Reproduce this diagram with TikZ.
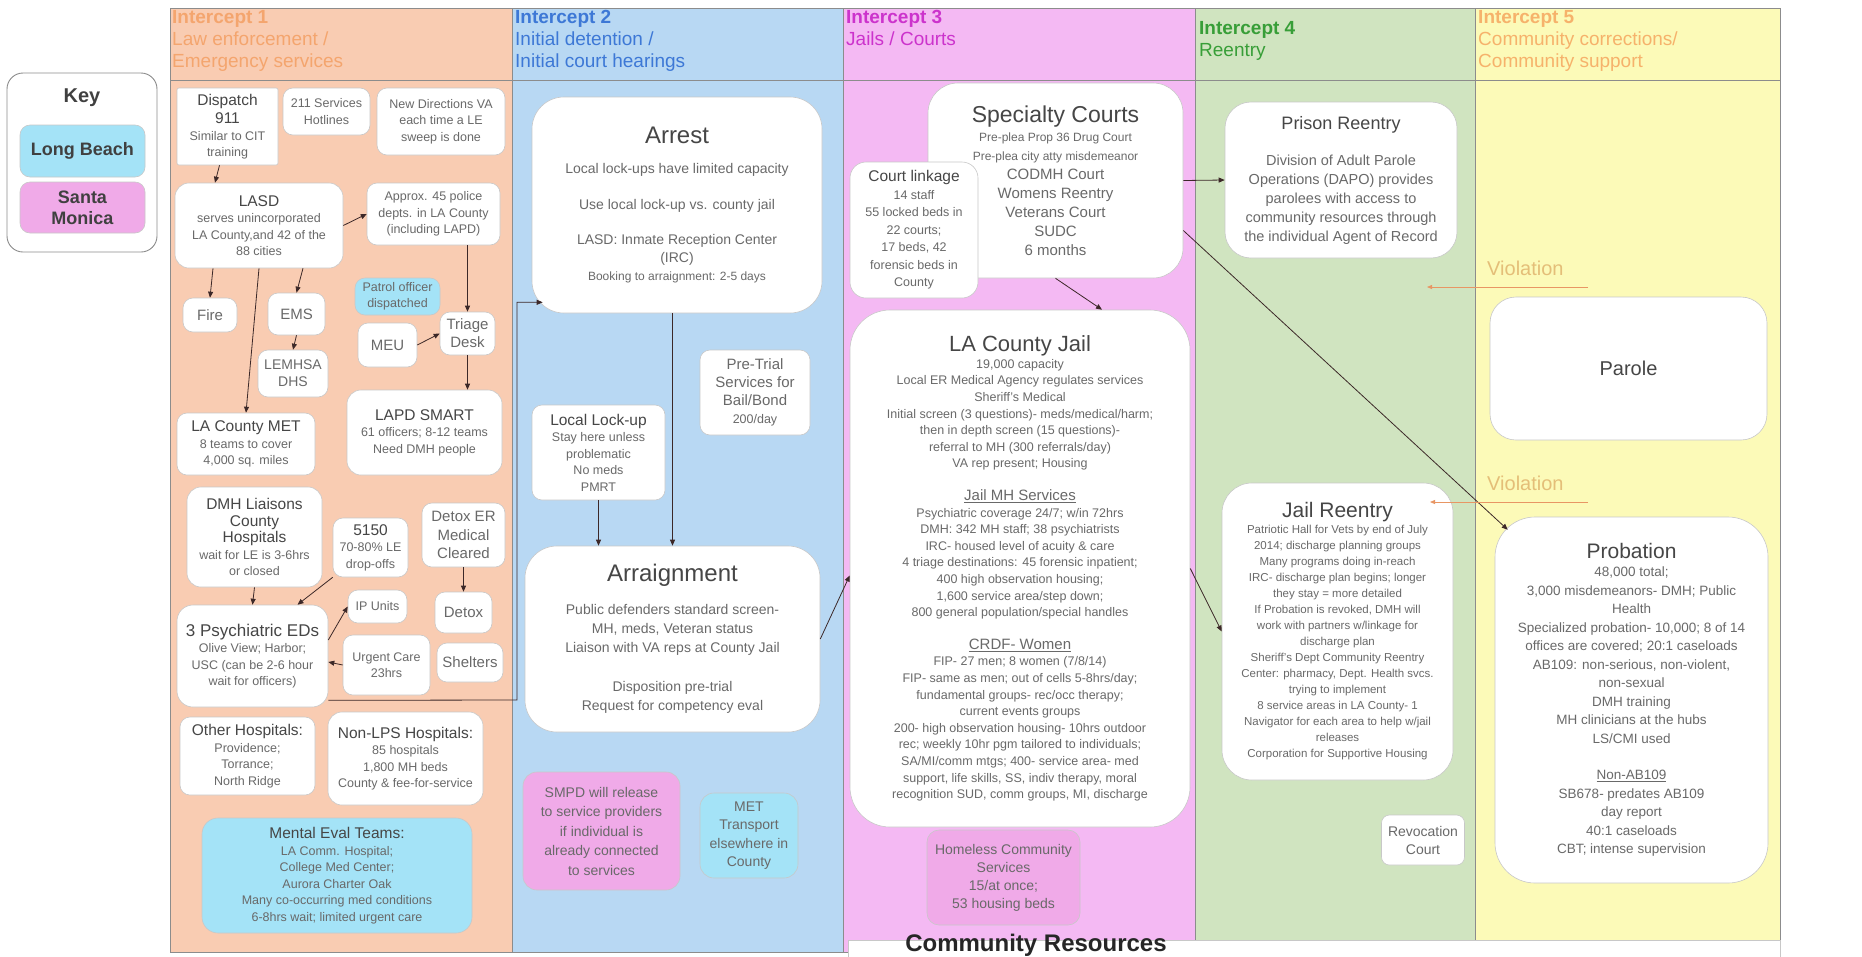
\documentclass[tikz,border=0pt]{standalone}
\usepackage{fontspec}
\setmainfont{Liberation Sans}
\usetikzlibrary{arrows.meta}
\definecolor{lawbg}{RGB}{249,204,178}
\definecolor{detbg}{RGB}{184,216,243}
\definecolor{jailbg}{RGB}{244,185,243}
\definecolor{entrybg}{RGB}{208,228,192}
\definecolor{commbg}{RGB}{252,250,184}
\definecolor{lawhd}{RGB}{244,165,110}
\definecolor{dethd}{RGB}{61,120,214}
\definecolor{jailhd}{RGB}{204,51,204}
\definecolor{entryhd}{RGB}{56,158,56}
\definecolor{commhd}{RGB}{246,178,107}
\definecolor{lbfill}{RGB}{164,227,247}
\definecolor{smfill}{RGB}{240,170,232}
\definecolor{ink}{RGB}{105,105,105}
\definecolor{inkdark}{RGB}{70,70,70}
\definecolor{boxedge}{RGB}{200,200,200}
\definecolor{laneedge}{RGB}{140,140,140}
\definecolor{wire}{RGB}{60,40,40}
\definecolor{violtxt}{RGB}{228,190,120}
\definecolor{violwire}{RGB}{232,150,100}
\newcommand{\fsz}[2]{\fontsize{#1}{#2}\selectfont}
\newcommand{\boxhead}[1]{{\fsz{15.5}{19}\color{inkdark}#1}}
\newcommand{\cardhead}[2][23]{{\fsz{#1}{#1}\color{inkdark}#2}}

\begin{document}
\begin{tikzpicture}[x=1pt,y=1pt]
\tikzstyle{every node}+=[inner sep=0pt]
\tikzstyle{card}=[draw=boxedge, fill=white, line width=0.6pt, rounded corners=10pt, align=center, text=ink, font=\fsz{12.5}{16.5}]
\tikzstyle{bigcard}=[card, rounded corners=32pt]
\tikzstyle{lbcard}=[card, fill=lbfill]
\tikzstyle{smcard}=[card, fill=smfill]
\tikzstyle{head}=[anchor=north west, align=left, font=\fsz{19}{22}]
\tikzstyle{lane}=[draw=laneedge, line width=0.6pt]
\tikzstyle{arr}=[draw=wire, line width=0.8pt, -{Triangle[length=6pt,width=5pt]}]
\tikzstyle{varr}=[draw=violwire, line width=0.8pt, -{Triangle[length=5pt,width=4pt]}]

\useasboundingbox (0,0) rectangle (1862,-956);
\fill [white] (0,0) rectangle (1862,-956);

\filldraw [lane, fill=lawbg] (170,-8) rectangle (512,-952);
\filldraw [lane, fill=detbg] (512,-8) rectangle (843,-952);
\filldraw [lane, fill=jailbg] (843,-8) rectangle (1195,-952);
\filldraw [lane, fill=entrybg] (1195,-8) rectangle (1475,-952);
\filldraw [lane, fill=commbg] (1475,-8) rectangle (1780,-952);
\draw [lane] (170,-80) -- (1780,-80);
\filldraw [draw=boxedge, fill=white] (848,-940) rectangle (1780,-970);

\draw (172,-10) node [head, text=lawhd] (hd1) {\textbf{Intercept 1}\\Law enforcement /\\Emergency services};
\draw (515,-10) node [head, text=dethd] (hd2) {\textbf{Intercept 2}\\Initial detention /\\Initial court hearings};
\draw (846,-10) node [head, text=jailhd] (hd3) {\textbf{Intercept 3}\\Jails / Courts};
\draw (1199,-21) node [head, text=entryhd] (hd4) {\textbf{Intercept 4}\\Reentry};
\draw (1478,-10) node [head, text=commhd] (hd5) {\textbf{Intercept 5}\\Community corrections/\\Community support};

\draw (82,-162.5) node [card, draw=laneedge, line width=0.9pt, rounded corners=16pt, minimum width=150pt, minimum height=179pt] (key) {};
\draw (82,-98) node [font=\bfseries\fsz{20}{24}, text=black!75] (keyttl) {Key};
\draw (82.5,-151) node [lbcard, minimum width=125pt, minimum height=52pt, font=\bfseries\fsz{18}{21}, text=black!75] (keylb) {Long Beach};
\draw (82.5,-207.5) node [smcard, minimum width=125pt, minimum height=51pt, font=\bfseries\fsz{18}{21}, text=black!75] (keysm) {Santa\\Monica};

\draw (227.5,-126.5) node [card, rounded corners=2pt, minimum width=101pt, minimum height=77pt] (disp) {\boxhead{Dispatch}\\[2pt]\boxhead{911}\\Similar to CIT\\training};
\draw (326.5,-111.5) node [card, minimum width=87pt, minimum height=47pt] (hotline) {211 Services\\Hotlines};
\draw (441,-121.5) node [card, minimum width=128pt, minimum height=67pt] (newdir) {New Directions VA\\each time a LE\\sweep is done};
\draw (259,-225.5) node [card, rounded corners=14pt, minimum width=168pt, minimum height=85pt] (lasd) {\boxhead{LASD}\\serves unincorporated\\LA County,and 42 of the\\88 cities};
\draw (433.5,-214) node [card, minimum width=133pt, minimum height=62pt] (approx) {Approx. 45 police\\depts. in LA County\\(including LAPD)};
\draw (210,-315) node [card, minimum width=54pt, minimum height=34pt, font=\fsz{15}{18}] (fire) {Fire};
\draw (296.5,-314) node [card, minimum width=57pt, minimum height=42pt, font=\fsz{15}{18}] (ems) {EMS};
\draw (397.5,-296.5) node [lbcard, minimum width=85pt, minimum height=37pt, font=\fsz{12.5}{15.5}] (patrol) {Patrol officer\\dispatched};
\draw (387.5,-345) node [card, minimum width=59pt, minimum height=44pt, font=\fsz{15}{18}] (meu) {MEU};
\draw (467.5,-333.5) node [card, minimum width=55pt, minimum height=43pt, font=\fsz{15}{18}] (triage) {Triage\\Desk};
\draw (293,-373.5) node [card, minimum width=70pt, minimum height=47pt, font=\fsz{14}{17}] (lemhsa) {LEMHSA\\DHS};
\draw (424.5,-432.5) node [card, rounded corners=14pt, minimum width=155pt, minimum height=85pt] (lapd) {\boxhead{LAPD SMART}\\61 officers; 8-12 teams\\Need DMH people};
\draw (246,-444) node [card, minimum width=138pt, minimum height=62pt] (lamet) {\boxhead{LA County MET}\\8 teams to cover\\4,000 sq. miles};
\draw (254.5,-537) node [card, rounded corners=14pt, minimum width=135pt, minimum height=100pt] (dmh) {\boxhead{DMH Liaisons}\\\boxhead{County}\\\boxhead{Hospitals}\\wait for LE is 3-6hrs\\or closed};
\draw (370.5,-547.5) node [card, minimum width=75pt, minimum height=59pt] (hold) {\boxhead{5150}\\70-80\% LE\\drop-offs};
\draw (463.5,-535) node [card, minimum width=83pt, minimum height=64pt, font=\fsz{15}{18.5}] (detoxer) {Detox ER\\Medical\\Cleared};
\draw (463.5,-612.5) node [card, minimum width=57pt, minimum height=41pt, font=\fsz{15}{18}] (detox) {Detox};
\draw (377.5,-606.5) node [card, minimum width=59pt, minimum height=33pt] (ipunits) {IP Units};
\draw (252.5,-656) node [card, rounded corners=16pt, minimum width=151pt, minimum height=102pt] (eds) {{\fsz{17}{20}\color{inkdark}3 Psychiatric EDs}\\Olive View; Harbor;\\USC (can be 2-6 hour\\wait for officers)};
\draw (386.5,-665) node [card, minimum width=87pt, minimum height=60pt] (urgent) {Urgent Care\\23hrs};
\draw (470,-662.5) node [card, minimum width=66pt, minimum height=39pt, font=\fsz{15}{18}] (shelters) {Shelters};
\draw (247.5,-756) node [card, minimum width=135pt, minimum height=78pt] (otherhosp) {\boxhead{Other Hospitals:}\\Providence;\\Torrance;\\North Ridge};
\draw (405.5,-758.5) node [card, rounded corners=14pt, minimum width=155pt, minimum height=93pt] (nonlps) {\boxhead{Non-LPS Hospitals:}\\85 hospitals\\1,800 MH beds\\County \& fee-for-service};
\draw (337,-875.5) node [lbcard, rounded corners=16pt, minimum width=270pt, minimum height=115pt] (evalteams) {\boxhead{Mental Eval Teams:}\\LA Comm. Hospital;\\College Med Center;\\Aurora Charter Oak\\Many co-occurring med conditions\\6-8hrs wait; limited urgent care};

\draw (677,-205) node [bigcard, minimum width=290pt, minimum height=216pt, font=\fsz{14}{18}] (arrest) {\cardhead[24]{Arrest}\\[12pt]Local lock-ups have limited capacity\\[18pt]Use local lock-up vs. county jail\\[17pt]LASD: Inmate Reception Center\\(IRC)\\{\fsz{12}{16}Booking to arraignment: 2-5 days}};
\draw (598.5,-452.5) node [card, minimum width=133pt, minimum height=95pt] (lockup) {\boxhead{Local Lock-up}\\Stay here unless\\problematic\\No meds\\PMRT};
\draw (755,-392.5) node [card, minimum width=110pt, minimum height=85pt, font=\fsz{15}{18}] (pretrial) {Pre-Trial\\Services for\\Bail/Bond\\{\fsz{12.5}{16}200/day}};
\draw (672.5,-639) node [bigcard, minimum width=295pt, minimum height=186pt, font=\fsz{14}{19}] (arraign) {\cardhead[24]{Arraignment}\\[14pt]Public defenders standard screen-\\MH, meds, Veteran status\\Liaison with VA reps at County Jail\\[20pt]Disposition pre-trial\\Request for competency eval};
\draw (601.5,-831) node [smcard, rounded corners=14pt, minimum width=157pt, minimum height=118pt, font=\fsz{14}{19.5}] (smpd) {SMPD will release\\to service providers\\if individual is\\already connected\\to services};
\draw (749,-835.5) node [lbcard, rounded corners=14pt, minimum width=98pt, minimum height=85pt, font=\fsz{14}{18.5}] (mettrans) {MET\\Transport\\elsewhere in\\County};

\draw (1055.5,-180.5) node [bigcard, rounded corners=30pt, minimum width=255pt, minimum height=195pt, font=\fsz{15}{19}] (spec) {\cardhead[23]{Specialty Courts}\\{\fsz{12}{16}Pre-plea Prop 36 Drug Court}\\{\fsz{12}{16}Pre-plea city atty misdemeanor}\\CODMH Court\\Womens Reentry\\Veterans Court\\SUDC\\6 months};
\draw (914,-230) node [card, rounded corners=16pt, minimum width=128pt, minimum height=136pt, font=\fsz{12.5}{17.5}] (linkage) {\boxhead{Court linkage}\\14 staff\\55 locked beds in\\22 courts;\\17 beds, 42\\forensic beds in\\County};
\draw (1020,-568.5) node [bigcard, rounded corners=40pt, minimum width=340pt, minimum height=517pt, font=\fsz{12.5}{16.6}] (jail) {\cardhead[22]{LA County Jail}\\19,000 capacity\\Local ER Medical Agency regulates services\\Sheriff's Medical\\Initial screen (3 questions)- meds/medical/harm;\\then in depth screen (15 questions)-\\referral to MH (300 referrals/day)\\VA rep present; Housing\\[16pt]{\fsz{15}{18}\underline{Jail MH Services}}\\Psychiatric coverage 24/7; w/in 72hrs\\DMH: 342 MH staff; 38 psychiatrists\\IRC- housed level of acuity \& care\\4 triage destinations: 45 forensic inpatient;\\400 high observation housing;\\1,600 service area/step down;\\800 general population/special handles\\[16pt]{\fsz{15}{18}\underline{CRDF- Women}}\\FIP- 27 men; 8 women (7/8/14)\\FIP- same as men; out of cells 5-8hrs/day;\\fundamental groups- rec/occ therapy;\\current events groups\\200- high observation housing- 10hrs outdoor\\rec; weekly 10hr pgm tailored to individuals;\\SA/MI/comm mtgs; 400- service area- med\\support, life skills, SS, indiv therapy, moral\\recognition SUD, comm groups, MI, discharge};
\draw (1003.5,-877.5) node [smcard, rounded corners=12pt, minimum width=153pt, minimum height=95pt, font=\fsz{14}{18}] (homeless) {Homeless Community\\Services\\15/at once;\\53 housing beds};
\draw (1036,-945) node [font=\bfseries\fsz{24}{28}, text=black!85] (commres) {Community Resources};

\draw (1341,-180) node [card, rounded corners=26pt, minimum width=232pt, minimum height=156pt, font=\fsz{14.5}{19}] (prison) {\cardhead[18]{Prison Reentry}\\[17pt]Division of Adult Parole\\Operations (DAPO) provides\\parolees with access to\\community resources through\\the individual Agent of Record};
\draw (1337.5,-631.5) node [card, rounded corners=30pt, minimum width=231pt, minimum height=297pt, font=\fsz{11.5}{16}] (jailre) {\cardhead[21]{Jail Reentry}\\Patriotic Hall for Vets by end of July\\2014; discharge planning groups\\Many programs doing in-reach\\IRC- discharge plan begins; longer\\they stay = more detailed\\If Probation is revoked, DMH will\\work with partners w/linkage for\\discharge plan\\Sheriff's Dept Community Reentry\\Center: pharmacy, Dept. Health svcs.\\trying to implement\\8 service areas in LA County- 1\\Navigator for each area to help w/jail\\releases\\Corporation for Supportive Housing};
\draw (1423,-840) node [card, rounded corners=8pt, minimum width=83pt, minimum height=50pt, font=\fsz{14}{18}] (revoc) {Revocation\\Court};

\draw (1487,-268) node [anchor=west, font=\fsz{20}{24}, text=violtxt] (viol1) {Violation};
\draw (1628.5,-368.5) node [card, rounded corners=26pt, minimum width=277pt, minimum height=143pt] (parole) {\cardhead[20]{Parole}};
\draw (1487,-483) node [anchor=west, font=\fsz{20}{24}, text=violtxt] (viol2) {Violation};
\draw (1631.5,-700) node [bigcard, rounded corners=40pt, minimum width=273pt, minimum height=366pt, font=\fsz{13.5}{18.5}] (prob) {\cardhead[21]{Probation}\\48,000 total;\\3,000 misdemeanors- DMH; Public\\Health\\Specialized probation- 10,000; 8 of 14\\offices are covered; 20:1 caseloads\\AB109: non-serious, non-violent,\\non-sexual\\DMH training\\MH clinicians at the hubs\\LS/CMI used\\[18pt]\underline{Non-AB109}\\SB678- predates AB109\\day report\\40:1 caseloads\\CBT; intense supervision};

\coordinate (turn) at (517,-700);
\coordinate (v1a) at (1588,-287);
\coordinate (v1b) at (1427,-287);
\coordinate (v2a) at (1588,-502);
\coordinate (v2b) at (1430,-502);

\draw [arr] ([xshift=-8pt]disp.south) -- ([xshift=-44pt]lasd.north);
\draw [arr] (lasd.east) -- (approx.west);
\draw [arr] ([xshift=-46pt]lasd.south) -- (fire.north);
\draw [arr] ([xshift=44pt]lasd.south) -- (ems.north);
\draw [arr] (lasd.south) -- (lamet.north);
\draw [arr] (ems.south) -- (lemhsa.north);
\draw [arr] (approx.south -| triage.north) -- (triage.north);
\draw [arr] (meu.east) -- (triage.west);
\draw [arr] (triage.south) -- (triage.south |- lapd.north);
\draw [arr] (dmh.south) -- (eds.north);
\draw [arr] (hold.south west) -- ([xshift=45pt]eds.north);
\draw [arr] ([yshift=16pt]eds.east) -- (ipunits.west);
\draw [arr] (urgent.west) -- ([yshift=-6pt]eds.east);
\draw [arr] (detoxer.south) -- (detox.north);
\draw [arr] ([yshift=7pt]eds.south east) -- (turn) |- ([shift={(11pt,11pt)}]arrest.south west);
\draw [arr] (arraign.north |- arrest.south) -- (arraign.north);
\draw [arr] (lockup.south) -- (lockup.south |- arraign.north);
\draw [arr] (arraign.east) -- ([yshift=-7pt]jail.west);
\draw [arr] (spec.east) -- (prison.west);
\draw [arr] (spec.south) -- ([xshift=82pt]jail.north);
\draw [arr] ([yshift=-50pt]spec.east) -- ([shift={(13pt,-13pt)}]prob.north west);
\draw [arr] (jail.east) -- (jailre.west);
\draw [varr] (v1a) -- (v1b);
\draw [varr] (v2a) -- (v2b);
\end{tikzpicture}
\end{document}
